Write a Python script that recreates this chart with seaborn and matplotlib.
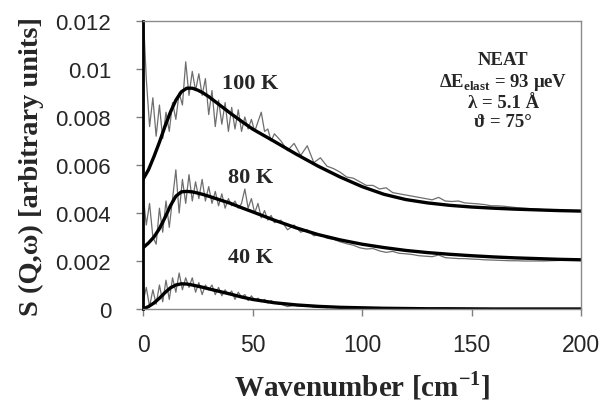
import numpy as np
import pandas as pd
import matplotlib
matplotlib.use("Agg")
import matplotlib.pyplot as plt
import seaborn as sns

# ---- data (S values in units of 1e-3) ----
x_noisy = [0, 1.5, 3, 4.5, 6, 7.5, 9, 10.5, 12, 13.5,
           15, 16.5, 18, 19.5, 21, 22.5, 24, 25.5, 27, 28.5,
           30, 31.5, 33, 34.5, 36, 37.5, 39, 40.5, 42, 43.5,
           45, 46.5, 48, 49.5, 51, 52.5, 54, 55.5, 57, 58.5,
           60, 63, 66, 69, 72, 75, 78, 81, 84, 87,
           90, 93, 96, 99, 102, 105, 108, 111, 114, 117,
           120, 123, 126, 129, 132, 135, 138, 141, 144, 147,
           150, 153, 156, 159, 162, 165, 168, 171, 174, 177,
           180, 183, 186, 189, 192, 195, 198, 200]

noisy_100K = [12.5, 9.6, 7.6, 8.8, 7.2, 8.5, 7.1, 8.2, 7.4, 8.6,
              7.9, 9.0, 8.5, 10.3, 8.9, 9.9, 9.1, 9.8, 8.9, 9.6,
              8.1, 9.1, 7.6, 8.7, 7.7, 8.6, 7.4, 8.4, 7.5, 8.3,
              7.4, 8.0, 7.5, 7.9, 7.4, 7.8, 8.2, 7.4, 7.5, 7.0,
              7.3, 7.0, 6.6, 6.9, 6.4, 6.8, 6.1, 6.3, 5.95, 5.85,
              5.7, 5.5, 5.45, 5.3, 5.15, 5.15, 5.0, 5.05, 4.85, 4.8,
              4.75, 4.7, 4.65, 4.6, 4.55, 4.65, 4.5, 4.48, 4.5, 4.42,
              4.4, 4.38, 4.35, 4.3, 4.3, 4.28, 4.25, 4.22, 4.2, 4.18,
              4.16, 4.14, 4.13, 4.11, 4.1, 4.09, 4.08, 4.07]

noisy_80K = [4.8, 3.5, 4.4, 3.0, 2.7, 4.2, 3.2, 4.5, 3.4, 4.6,
             5.8, 4.0, 5.4, 4.4, 5.6, 4.5, 5.3, 4.6, 5.4, 4.5,
             5.1, 4.4, 4.9, 4.3, 4.8, 4.2, 4.6, 4.3, 4.5, 4.2,
             4.4, 5.0, 4.2, 4.6, 4.0, 4.4, 3.8, 4.1, 3.7, 3.9,
             3.6, 3.7, 3.3, 3.5, 3.2, 3.3, 3.05, 3.1, 2.95, 2.9,
             2.8, 2.72, 2.66, 2.55, 2.5, 2.52, 2.42, 2.36, 2.4, 2.32,
             2.3, 2.27, 2.22, 2.2, 2.18, 2.25, 2.14, 2.12, 2.1, 2.1,
             2.08, 2.07, 2.05, 2.04, 2.03, 2.02, 2.01, 2.01, 2.0, 2.0,
             2.0, 2.0, 2.01, 2.02, 2.03, 2.04, 2.04, 2.05]

noisy_40K = [0.3, 0.9, 0.1, 0.8, 0.2, 1.0, 0.3, 1.2, 0.4, 1.3,
             0.7, 1.5, 0.8, 1.3, 0.9, 1.3, 0.7, 1.1, 0.6, 1.0,
             0.8, 1.0, 0.6, 0.9, 0.55, 0.8, 0.6, 0.75, 0.4, 0.7,
             0.5, 0.6, 0.35, 0.55, 0.35, 0.45, 0.3, 0.4, 0.25, 0.35,
             0.25, 0.2, 0.1, 0.15, 0.12, 0.15, 0.08, 0.1, 0.06, 0.08,
             0.05, 0.06, 0.04, 0.05, 0.03, 0.04, 0.03, 0.03, 0.02, 0.02,
             0.02, 0.02, 0.01, 0.02, 0.01, 0.01, 0.01, 0.01, 0.01, 0.01,
             0.01, 0.01, 0.005, 0.005, 0.005, 0.005, 0.005, 0.0, 0.0, 0.0,
             0.0, 0.0, 0.0, 0.0, 0.0, 0.0, 0.0, 0.0]

x_fit = [0, 2.5, 5, 7.5, 10, 12.5, 15, 17.5, 20, 22.5, 25, 27.5, 30, 35, 40, 45,
         50, 60, 70, 80, 90, 100, 110, 120, 130, 140, 150, 160, 170, 180, 190, 200]
fit_100K = [5.4, 5.8, 6.35, 6.95, 7.6, 8.2, 8.7, 9.05, 9.2, 9.2, 9.12, 9.0, 8.85, 8.5, 8.15, 7.82,
            7.5, 6.98, 6.45, 5.95, 5.5, 5.1, 4.78, 4.56, 4.42, 4.32, 4.25, 4.2, 4.16, 4.13, 4.1, 4.08]
fit_80K = [2.55, 2.75, 3.0, 3.35, 3.8, 4.3, 4.7, 4.88, 4.9, 4.88, 4.83, 4.77, 4.7, 4.55, 4.4, 4.22,
           4.05, 3.7, 3.38, 3.1, 2.88, 2.7, 2.56, 2.44, 2.35, 2.28, 2.22, 2.17, 2.13, 2.1, 2.07, 2.05]
fit_40K = [0.0, 0.1, 0.25, 0.45, 0.68, 0.88, 1.0, 1.05, 1.04, 1.0, 0.95, 0.9, 0.84, 0.73, 0.62, 0.5,
           0.4, 0.26, 0.17, 0.11, 0.07, 0.05, 0.03, 0.02, 0.01, 0.01, 0.005, 0.0, 0.0, 0.0, 0.0, 0.0]

series_labels = ["100 K", "80 K", "40 K"]
x_ticks = [0, 50, 100, 150, 200]
y_ticks = [0, 0.002, 0.004, 0.006, 0.008, 0.01, 0.012]
y_tick_labels = ["0", "0.002", "0.004", "0.006", "0.008", "0.01", "0.012"]

SCALE = 1e-3

sns.set_style("white")
plt.rcParams['font.family'] = ['Liberation Sans', 'DejaVu Sans']

fig = plt.figure(figsize=(6.01, 4.10), dpi=100)
ax = fig.add_axes([143/601, 1 - 310/410, (581-143)/601, (310-22)/410])

for ys in [noisy_100K, noisy_80K, noisy_40K]:
    df = pd.DataFrame({"x": x_noisy, "y": np.array(ys) * SCALE})
    sns.lineplot(data=df, x="x", y="y", ax=ax, color="#6e6e6e", linewidth=0.9,
                 estimator=None, sort=False)
for ys in [fit_100K, fit_80K, fit_40K]:
    df = pd.DataFrame({"x": x_fit, "y": np.array(ys) * SCALE})
    sns.lineplot(data=df, x="x", y="y", ax=ax, color="black", linewidth=2.4,
                 estimator=None, sort=False)

ax.set_xlim(0, 200)
ax.set_ylim(0, 0.012)
ax.set_xticks(x_ticks)
ax.set_xticklabels([str(t) for t in x_ticks], fontsize=16.5)
ax.set_yticks(y_ticks)
ax.set_yticklabels(y_tick_labels, fontsize=16)
ax.tick_params(axis='both', direction='out', length=5, width=1, color="#808080",
               bottom=True, left=True)
ax.tick_params(axis='y', pad=18)
ax.tick_params(axis='x', pad=12)

for side in ["top", "right", "bottom"]:
    ax.spines[side].set_color("#8a8a8a")
    ax.spines[side].set_linewidth(1.0)
ax.spines["left"].set_color("black")
ax.spines["left"].set_linewidth(2.0)

serif = ['Liberation Serif', 'DejaVu Serif']
ax.set_xlabel("Wavenumber [cm$^{\\mathregular{-1}}$]", fontsize=21, fontweight='bold',
              family=serif, labelpad=9)
ax.set_ylabel("S (Q,\u03c9) [arbitrary units]", fontsize=20.5, fontweight='bold',
              family=serif, labelpad=8)

label_pos = [(49, 0.0094), (49, 0.0055), (49, 0.00217)]
for lab, (lx, ly) in zip(series_labels, label_pos):
    ax.text(lx, ly, lab, ha='center', va='center', fontsize=16, fontweight='bold', family=serif)

nfs = 13.5
ax.text(164.5, 0.0104, "NEAT", ha='center', va='center', fontsize=nfs, fontweight='bold', family=serif)
ax.text(164.5, 0.00946, "\u0394E$_{\\mathregular{elast}}$ = 93 \u03bceV", ha='center', va='center',
        fontsize=nfs, fontweight='bold', family=serif)
ax.text(164.5, 0.0086, "\u03bb = 5.1 \u00c5", ha='center', va='center', fontsize=nfs,
        fontweight='bold', family=serif)
ax.text(164.5, 0.00783, "\u03d1 = 75\u00b0", ha='center', va='center', fontsize=nfs,
        fontweight='bold', family=serif)

fig.savefig("out.png", dpi=100)
